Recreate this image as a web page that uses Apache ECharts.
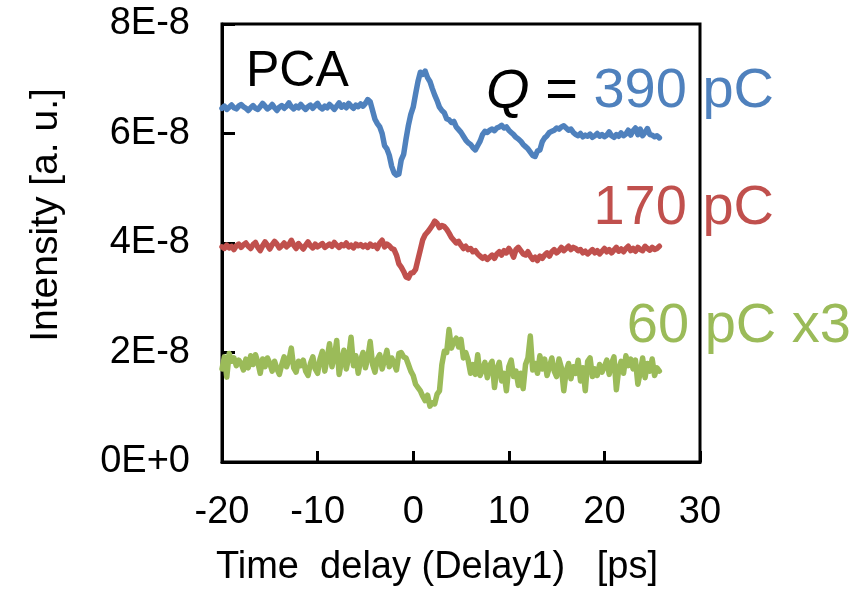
<!DOCTYPE html>
<html>
<head>
<meta charset="utf-8">
<script src="https://cdn.jsdelivr.net/npm/echarts@6/dist/echarts.min.js"></script>
<style>
  html, body { margin: 0; padding: 0; background: #fff; }
  #chart { width: 868px; height: 596px; }
</style>
</head>
<body>
<div id="chart"></div>
<script>
// Time axis: samples every 0.25 ps starting at -20 ps
const delayStart = -20;
const delayStep = 0.25;

// Intensities in units of 1E-8 (a. u.)
const q390 = [
  6.46, 6.50, 6.44, 6.48, 6.52, 6.47, 6.45, 6.50, 6.53, 6.49,
  6.46, 6.42, 6.47, 6.51, 6.46, 6.44, 6.49, 6.55, 6.50, 6.45,
  6.48, 6.53, 6.47, 6.42, 6.48, 6.51, 6.46, 6.50, 6.56, 6.49,
  6.45, 6.50, 6.47, 6.53, 6.48, 6.44, 6.49, 6.52, 6.46, 6.51,
  6.55, 6.48, 6.45, 6.50, 6.47, 6.53, 6.49, 6.44, 6.50, 6.56,
  6.48, 6.52, 6.47, 6.55, 6.50, 6.46, 6.52, 6.49, 6.54, 6.50,
  6.55, 6.62, 6.58, 6.42, 6.26, 6.18, 6.12, 6.00, 5.78, 5.72,
  5.60, 5.40, 5.28, 5.24, 5.26, 5.52, 5.62, 5.90, 6.15, 6.35,
  6.48, 6.72, 6.95, 7.12, 7.08, 7.14, 7.02, 6.95, 6.82, 6.70,
  6.60, 6.48, 6.42, 6.38, 6.27, 6.25, 6.20, 6.22, 6.12, 6.07,
  6.02, 5.95, 5.88, 5.83, 5.80, 5.74, 5.70, 5.78, 5.86, 5.98,
  6.04, 6.02, 6.06, 6.08, 6.05, 6.10, 6.12, 6.15, 6.10, 6.12,
  6.06, 6.02, 5.98, 5.93, 5.90, 5.86, 5.80, 5.76, 5.72, 5.66,
  5.60, 5.58, 5.68, 5.70, 5.85, 5.92, 5.96, 6.02, 6.04, 6.06,
  6.10, 6.08, 6.12, 6.14, 6.10, 6.06, 6.08, 6.02, 5.98, 5.96,
  6.00, 5.94, 5.97, 5.95, 5.99, 5.93, 5.96, 6.00, 5.95, 5.98,
  5.94, 5.97, 6.03, 5.96, 5.93, 5.98, 5.95, 6.01, 5.96, 5.99,
  6.06, 5.97, 6.05, 6.10, 5.98, 6.08, 5.96, 6.02, 6.09, 5.98,
  5.97, 5.94, 5.96, 5.92
];

const q170 = [
  3.93, 3.90, 3.96, 3.91, 3.94, 3.88, 3.95, 3.98, 3.92, 3.97,
  4.00, 3.94, 3.90, 3.97, 4.01, 3.92, 3.86, 3.95, 4.02, 3.96,
  3.89, 3.97, 4.03, 3.98, 3.91, 3.95, 4.00, 3.93, 3.97, 4.05,
  3.96, 3.90, 3.99, 3.94, 3.89, 3.96, 4.02, 3.95, 3.91, 3.98,
  3.93, 3.96, 3.99, 3.92, 3.95, 3.98, 3.94, 4.01, 3.96, 3.92,
  3.97, 3.95, 4.00, 3.93, 3.96, 3.91, 3.98, 3.95, 3.97, 3.93,
  3.96, 3.92, 3.98, 3.94, 3.96, 3.90, 4.00, 4.05, 3.93, 3.98,
  3.95, 3.90, 3.88, 3.78, 3.62, 3.56, 3.48, 3.38, 3.36, 3.45,
  3.46, 3.52, 3.70, 3.88, 4.06, 4.15, 4.20, 4.26, 4.32, 4.40,
  4.36, 4.28, 4.32, 4.30, 4.25, 4.18, 4.10, 4.05, 4.00, 4.03,
  3.96, 3.90, 3.94, 3.88, 3.90, 3.84, 3.86, 3.80, 3.76, 3.72,
  3.75, 3.70, 3.74, 3.78, 3.72, 3.80, 3.84, 3.78, 3.86, 3.82,
  3.90, 3.84, 3.74, 3.88, 3.92, 3.86, 3.80, 3.78, 3.84, 3.76,
  3.70, 3.74, 3.68, 3.76, 3.72, 3.78, 3.82, 3.76, 3.84, 3.88,
  3.82, 3.86, 3.92, 3.86, 3.90, 3.94, 3.88, 3.92, 3.90, 3.86,
  3.88, 3.82, 3.85, 3.80, 3.84, 3.88, 3.82, 3.86, 3.80, 3.85,
  3.90, 3.84, 3.88, 3.82, 3.87, 3.92, 3.85, 3.89, 3.84, 3.90,
  3.94, 3.86, 3.90, 3.85, 3.92, 3.88, 3.86, 3.94, 3.90, 3.87,
  3.92, 3.88, 3.90, 3.94
];

// 60 pC trace, already multiplied by 3
const q60x3 = [
  1.70, 1.92, 1.55, 1.98, 1.84, 1.90, 1.76, 1.86, 1.80, 1.68,
  1.88, 1.72, 1.94, 1.78, 1.96, 1.82, 1.62, 1.88, 1.74, 1.90,
  1.80, 1.66, 1.84, 1.70, 1.60, 1.78, 1.92, 1.74, 1.86, 2.08,
  1.72, 1.64, 1.84, 1.76, 1.86, 1.66, 1.58, 1.80, 1.92, 1.70,
  1.62, 1.88, 2.02, 1.66, 1.90, 2.16, 1.74, 1.92, 2.22, 1.60,
  1.84, 2.04, 1.70, 1.92, 2.28, 1.76, 1.94, 1.62, 1.86, 2.00,
  1.72, 1.90, 2.20, 1.78, 1.64, 1.88, 1.96, 1.70, 1.86, 2.04,
  1.74, 1.90, 1.80, 1.68, 1.98, 2.00, 1.92, 1.90, 1.78, 1.66,
  1.58, 1.42, 1.36, 1.30, 1.20, 1.12, 1.22, 1.02, 1.08, 1.06,
  1.24, 1.30, 1.78, 2.02, 2.00, 2.42, 2.08, 2.20, 2.26, 2.10,
  2.24, 1.90, 2.00, 1.86, 1.62, 1.78, 1.60, 1.96, 1.58, 1.68,
  1.82, 1.54, 1.76, 1.84, 1.36, 1.70, 1.82, 1.48, 1.62, 1.30,
  1.74, 1.86, 1.56, 1.66, 1.40, 1.62, 1.34, 1.78, 1.90, 2.30,
  1.68, 1.80, 1.62, 1.94, 1.70, 1.88, 1.58, 1.74, 1.90, 1.66,
  1.56, 1.88, 1.72, 1.30, 1.66, 1.80, 1.52, 1.74, 1.62, 1.86,
  1.48, 1.72, 1.30, 1.84, 1.90, 1.56, 1.70, 1.58, 1.78, 1.64,
  1.74, 1.86, 1.60, 1.80, 1.92, 1.32, 1.70, 1.84, 1.62, 1.94,
  1.76, 1.88, 1.70, 1.86, 1.42, 1.64, 1.90, 1.54, 1.80, 1.66,
  1.88, 1.58, 1.72, 1.66
];

const xTicks = { min: -20, max: 30, step: 10 };
const yTicks = { min: 0, max: 8e-8, step: 2e-8 };
const unit = 1e-8;

const colors = { q390: '#4F81BD', q170: '#C0504D', q60: '#9BBB59' };
const font = "'Liberation Sans', Arial, sans-serif";

function toPairs(vals) {
  return vals.map((v, i) => [delayStart + i * delayStep, v * unit]);
}

function sciLabel(v) {
  if (v === 0) return '0E+0';
  const exp = Math.floor(Math.log10(Math.abs(v)) + 1e-9);
  const mant = Math.round(v / Math.pow(10, exp) * 1000) / 1000;
  return mant + 'E' + (exp >= 0 ? '+' + exp : exp);
}

const chart = echarts.init(document.getElementById('chart'), null, { renderer: 'canvas' });

function lineSeries(vals, color) {
  return {
    type: 'line',
    data: toPairs(vals),
    showSymbol: false,
    symbol: 'none',
    lineStyle: { color: color, width: 5.5, join: 'round', cap: 'round' },
    animation: false
  };
}

chart.setOption({
  animation: false,
  backgroundColor: '#fff',
  grid: {
    left: 222, right: 168, top: 24, bottom: 134,
    show: true, borderColor: '#000', borderWidth: 3, backgroundColor: 'transparent'
  },
  xAxis: {
    type: 'value',
    min: xTicks.min, max: xTicks.max, interval: xTicks.step,
    axisLine: { show: true, onZero: false, lineStyle: { color: '#000', width: 3 } },
    axisTick: { show: true, inside: true, length: 11, lineStyle: { color: '#000', width: 3 } },
    axisLabel: { color: '#000', fontFamily: font, fontSize: 38, margin: 32 },
    splitLine: { show: false }
  },
  yAxis: {
    type: 'value',
    min: yTicks.min, max: yTicks.max, interval: yTicks.step,
    axisLine: { show: true, onZero: false, lineStyle: { color: '#000', width: 3 } },
    axisTick: { show: true, inside: true, length: 13, lineStyle: { color: '#000', width: 3 } },
    axisLabel: {
      color: '#000', fontFamily: font, fontSize: 38, margin: 32,
      padding: [10, 0, 0, 0], formatter: sciLabel
    },
    splitLine: { show: false }
  },
  series: [
    lineSeries(q390, colors.q390),
    lineSeries(q170, colors.q170),
    lineSeries(q60x3, colors.q60)
  ],
  graphic: [
    {
      type: 'text', x: 46, y: 215, rotation: Math.PI / 2, z: 10,
      style: { text: 'Intensity [a. u.]', font: '39px ' + font, fill: '#000', align: 'center', verticalAlign: 'middle' }
    },
    {
      type: 'text', x: 437, y: 568, z: 10,
      style: { text: 'Time  delay (Delay1)   [ps]', font: '38px ' + font, fill: '#000', align: 'center', verticalAlign: 'middle' }
    },
    {
      type: 'text', x: 246, y: 72, z: 10,
      style: { text: 'PCA', font: '50px ' + font, fill: '#000', align: 'left', verticalAlign: 'middle' }
    },
    {
      type: 'text', x: 774, y: 92, z: 10,
      style: {
        text: '{q|Q} = {b|390 pC}', font: '56px ' + font, fill: '#000', align: 'right', verticalAlign: 'middle',
        rich: {
          q: { font: 'italic 56px ' + font, fill: '#000' },
          b: { font: '56px ' + font, fill: colors.q390 }
        }
      }
    },
    {
      type: 'text', x: 774, y: 209, z: 10,
      style: { text: '170 pC', font: '56px ' + font, fill: colors.q170, align: 'right', verticalAlign: 'middle' }
    },
    {
      type: 'text', x: 851, y: 327, z: 10,
      style: { text: '60 pC x3', font: '56px ' + font, fill: colors.q60, align: 'right', verticalAlign: 'middle' }
    }
  ]
});
</script>
</body>
</html>
